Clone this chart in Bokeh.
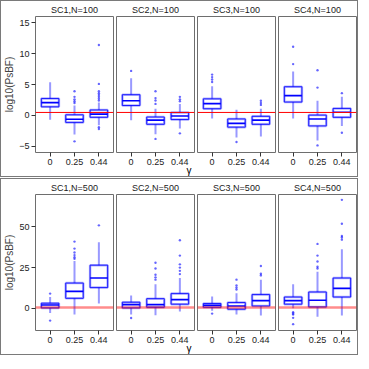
from bokeh.plotting import figure
from bokeh.models import Range1d, FixedTicker, Span, Div, ColumnDataSource
from bokeh.layouts import row, column
from bokeh.embed import file_html
from bokeh.resources import INLINE

scenarios = ["SC1", "SC2", "SC3", "SC4"]
gammas = ["0", "0.25", "0.44"]
ref_line = 0.48

# N = 100 : per scenario, per gamma
n100_lo = [[-0.72, -3.1, -1.6], [-0.77, -3.04, -2.1], [-0.5, -3.56, -3.4], [-0.5, -4.07, -1.7]]
n100_q1 = [[1.39, -1.13, -0.31], [1.6, -1.44, -0.67], [1.08, -1.9, -1.44], [2.16, -1.7, -0.31]]
n100_med = [[2.06, -0.62, 0.2], [2.37, -0.77, -0.1], [1.9, -1.29, -0.77], [3.2, -0.57, 0.5]]
n100_q3 = [[2.73, 0.1, 0.88], [3.35, -0.26, 0.46], [2.68, -0.57, -0.15], [4.64, 0.05, 1.13]]
n100_hi = [[5.36, 1.6, 2.1], [6.0, 1.08, 1.86], [4.7, 0.93, 1.08], [7.1, 2.37, 3.0]]
n100_out = [
    [[], [2.0, 2.3, 2.6, 3.0, 3.9, -4.2], [2.4, 2.7, 3.0, 3.3, 3.6, 3.9, 5.1, 11.4, -1.9, -2.2]],
    [[7.2], [1.86, 2.4, 2.8, 3.9, -3.8], [2.3, 2.6, 3.0, -2.9]],
    [[5.4, 5.8, 6.2, 6.6], [-4.3], [1.7, 2.0, 2.37]],
    [[8.3, 11.1], [4.5, 7.3, -4.85], [3.6, -2.8]],
]

# N = 500
n500_lo = [[-2.9, -3.9, 2.9], [-3.9, -4.3, -2.0], [-1.6, -3.9, -4.5], [0.0, -5.3, -4.5]]
n500_q1 = [[0.2, 6.1, 12.7], [0.2, 0.6, 2.5], [0.6, -0.6, 1.4], [2.5, 0.8, 6.9]]
n500_med = [[2.0, 10.4, 18.6], [2.2, 2.2, 5.3], [1.8, 1.4, 4.7], [4.7, 4.9, 12.2]]
n500_q3 = [[3.1, 15.5, 26.5], [3.7, 5.9, 9.0], [2.9, 3.5, 8.4], [6.9, 10.0, 18.6]]
n500_hi = [[6.9, 29.0, 40.6], [7.8, 14.7, 18.6], [7.3, 9.2, 17.5], [14.7, 22.5, 36.3]]
n500_out = [
    [[9.0, -7.6], [30.4, 31.4, 32.7, 34.3, 36.7, 41.0], [51.0]],
    [[-6.0], [17.6, 19.0, 20.6, 24.5, 28.0], [21.0, 23.0, 25.0, 27.0, 32.4, 41.8]],
    [[-3.3], [11.5, 12.7, 14.0, 17.6], [20.2, 21.2, 26.0]],
    [[-2.5, -3.2, -3.9, -5.9, -9.8], [24.5, 25.5, 28.8, 32.4, 39.6], [42.2, 43.5, 44.5, 52.0, 66.7]],
]

y_ticks_100 = [-5, 0, 5, 10, 15]
y_ticks_500 = [0, 25, 50]
y_range_100 = (-6.0, 16.0)
y_range_500 = (-13.7, 70.0)

FONT = "Liberation Sans"
BW = 0.72


def make_panel(title, first, yr, yticks, lo, q1, med, q3, hi, out, ref_alpha, ref_width):
    p = figure(frame_width=78, frame_height=136,
               x_range=Range1d(0.4, 3.6), y_range=Range1d(*yr),
               output_backend="svg", toolbar_location=None,
               min_border_left=1, min_border_right=1, min_border_top=0, min_border_bottom=0)
    p.title.text = title
    p.title.align = "center"
    p.title.text_font = FONT
    p.title.text_font_size = "9px"
    p.title.text_font_style = "normal"
    p.title.text_color = "#1a1a1a"
    p.title.standoff = 3
    p.grid.visible = False
    p.outline_line_color = "#6e6e6e"
    p.outline_line_width = 1
    p.background_fill_color = "white"
    p.border_fill_color = "white"

    xs = [i + 1 for i in range(len(gammas))]
    p.xaxis.ticker = FixedTicker(ticks=xs)
    p.xaxis.major_label_overrides = {x: g for x, g in zip(xs, gammas)}
    for ax in (p.xaxis, p.yaxis):
        ax.axis_line_color = None
        ax.major_tick_in = 0
        ax.major_tick_out = 4
        ax.minor_tick_line_color = None
        ax.major_tick_line_color = "#333333"
        ax.major_label_text_font = FONT
        ax.major_label_text_font_size = "9px"
        ax.major_label_text_color = "#222222"
        ax.major_label_standoff = 2
    if first:
        p.yaxis.ticker = FixedTicker(ticks=yticks)
        p.yaxis.axis_label = "log10(PsBF)"
        p.yaxis.axis_label_text_font = FONT
        p.yaxis.axis_label_text_font_size = "10px"
        p.yaxis.axis_label_text_font_style = "normal"
        p.yaxis.axis_label_standoff = 1
    else:
        p.yaxis.visible = False

    p.add_layout(Span(location=ref_line, dimension="width", line_color="red",
                      line_alpha=ref_alpha, line_width=ref_width))

    src = ColumnDataSource(dict(x=xs, left=[x - BW / 2 for x in xs], right=[x + BW / 2 for x in xs],
                                lo=lo, q1=q1, med=med, q3=q3, hi=hi))
    # whiskers
    p.segment(x0="x", y0="q3", x1="x", y1="hi", source=src, line_color="#0000ff", line_alpha=0.4, line_width=2)
    p.segment(x0="x", y0="q1", x1="x", y1="lo", source=src, line_color="#0000ff", line_alpha=0.4, line_width=2)
    # boxes
    p.quad(left="left", right="right", bottom="q1", top="q3", source=src, fill_color=None,
           line_color="#0000ff", line_alpha=0.3, line_width=2.5)
    p.quad(left="left", right="right", bottom="q1", top="q3", source=src, fill_color=None,
           line_color="#0000ff", line_alpha=0.85, line_width=1)
    # medians
    p.segment(x0="left", y0="med", x1="right", y1="med", source=src, line_color="#0000ff", line_width=1.6)
    # outliers
    ox, oy = [], []
    for x, vals in zip(xs, out):
        for v in vals:
            ox.append(x)
            oy.append(v)
    p.scatter(ox, oy, marker="circle", size=2.4, fill_color="#0000ff", fill_alpha=0.6, line_color=None)
    return p


def make_half(label, yr, yticks, lo, q1, med, q3, hi, out, ref_alpha, ref_width):
    figs = []
    for i, sc in enumerate(scenarios):
        figs.append(make_panel(f"{sc},N={label}", i == 0, yr, yticks,
                               lo[i], q1[i], med[i], q3[i], hi[i], out[i], ref_alpha, ref_width))
    r = row(*figs, spacing=1)
    gdiv = Div(text="γ", width=20, height=10, margin=(-1, 0, 0, 178),
               styles={"text-align": "center", "font-size": "10px", "font-family": FONT,
                       "line-height": "10px"})
    return column(r, gdiv, spacing=0,
                  styles={"border": "1px solid #7a7a7a", "background-color": "white"})


top = make_half("100", y_range_100, y_ticks_100, n100_lo, n100_q1, n100_med, n100_q3, n100_hi, n100_out, 1.0, 1)
bottom = make_half("500", y_range_500, y_ticks_500, n500_lo, n500_q1, n500_med, n500_q3, n500_hi, n500_out, 0.45, 2.5)
layout = column(top, bottom, spacing=1)

open("out.html", "w").write(file_html(layout, INLINE))
